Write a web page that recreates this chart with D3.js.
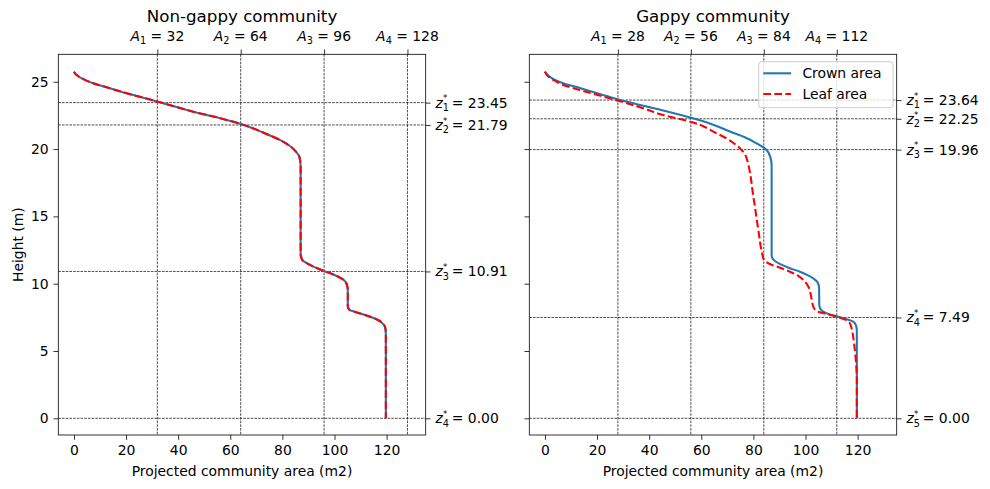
<!DOCTYPE html>
<html><head><meta charset="utf-8">
<script src="https://cdn.jsdelivr.net/npm/d3@7"></script>
<style>
html,body{margin:0;padding:0;background:#fff;}
svg{display:block;font-family:"DejaVu Sans",sans-serif;}
</style></head>
<body><svg id="c" width="990" height="489"></svg>
<script>
// ---------------- data ----------------
const titles = ["Non-gappy community", "Gappy community"];
const xTicks = [0, 20, 40, 60, 80, 100, 120];
const yTicks = [0, 5, 10, 15, 20, 25];
const ngA = [32, 64, 96, 128];
const ngZ = [23.45, 21.79, 10.91, 0.00];
const gA = [28, 56, 84, 112];
const gZ = [23.64, 22.25, 19.96, 7.49, 0.00];

// non-gappy community (crown and leaf area identical)
const ngArea = [0, 1.0, 2.3, 3.6, 7.4, 13.8, 20.2, 26.6, 32.3, 45.8, 54.8, 64.1, 73.9, 79.0, 82.9, 85.2, 86.5, 87.0, 87.0, 87.5, 90.0, 95.2, 100.0, 103.6, 104.8, 105.1, 105.1, 105.8, 108.0, 112.8, 116.7, 119.0, 119.6, 119.7, 119.7];
const ngHeight = [25.75, 25.5, 25.33, 25.2, 24.89, 24.52, 24.15, 23.82, 23.52, 22.78, 22.36, 21.86, 21.12, 20.68, 20.23, 19.81, 19.44, 18.7, 12.2, 11.8, 11.45, 11.0, 10.64, 10.27, 9.9, 9.5, 8.3, 8.05, 7.9, 7.6, 7.3, 6.93, 6.6, 6.0, 0.0];

// gappy community
const gCrownArea = [0, 1.0, 2.3, 3.6, 7.0, 14.0, 21.0, 28.5, 37.0, 45.4, 56.5, 64.0, 71.0, 76.5, 81.2, 84.8, 86.5, 87.0, 87.0, 87.6, 90.3, 94.0, 97.9, 101.0, 103.0, 104.6, 105.2, 105.3, 105.8, 106.8, 109.5, 112.5, 116.0, 118.3, 119.4, 119.7, 119.7];
const gCrownHeight = [25.75, 25.5, 25.3, 25.15, 24.89, 24.5, 24.1, 23.66, 23.25, 22.87, 22.3, 21.85, 21.3, 20.9, 20.43, 19.98, 19.4, 18.8, 12.1, 11.8, 11.45, 11.15, 10.89, 10.62, 10.4, 10.1, 9.7, 8.4, 8.1, 7.92, 7.7, 7.55, 7.35, 7.18, 6.9, 6.5, 0.0];
const gLeafArea = [0, 1.0, 2.3, 3.6, 7.0, 15.0, 24.9, 35.0, 45.4, 56.5, 65.9, 70.5, 74.8, 76.8, 77.6, 78.0, 80.0, 81.9, 83.3, 84.0, 85.7, 90.0, 94.0, 97.5, 99.8, 101.3, 101.9, 102.5, 103.0, 103.8, 104.9, 108.0, 111.9, 115.0, 117.0, 117.8, 118.3, 118.8, 119.2, 119.6, 119.7, 119.7];
const gLeafHeight = [25.75, 25.45, 25.25, 25.1, 24.76, 24.3, 23.77, 23.2, 22.53, 22.0, 21.17, 20.7, 20.06, 19.6, 19.2, 18.9, 16.46, 13.99, 12.3, 11.8, 11.52, 11.2, 10.89, 10.55, 10.15, 9.7, 9.29, 8.7, 8.29, 8.05, 7.92, 7.75, 7.55, 7.35, 7.06, 6.6, 6.06, 5.3, 4.58, 3.5, 2.85, 0.0];

const legendLabels = ["Crown area", "Leaf area"];

// ---------------- drawing ----------------
const svg = d3.select("#c");
const FS = 13.9, TICK = 4.86, PAD = 4.86;
const TOP = 54.3, BOTTOM = 435;
const panels = [
  {x0: 58.3, x1: 425.7, A: ngA, Z: ngZ, crown: [ngArea, ngHeight], leaf: [ngArea, ngHeight], ylab: true, legend: false},
  {x0: 529.3, x1: 896.7, A: gA, Z: gZ, crown: [gCrownArea, gCrownHeight], leaf: [gLeafArea, gLeafHeight], ylab: false, legend: true}
];
const y = d3.scaleLinear().domain([-1.24, 27.04]).range([BOTTOM, TOP]);

panels.forEach((p, pi) => {
  const x = d3.scaleLinear().domain([-6, 135]).range([p.x0, p.x1]);
  const g = svg.append("g");
  const clipId = "clip" + pi;
  svg.append("clipPath").attr("id", clipId).append("rect")
    .attr("x", p.x0).attr("y", TOP).attr("width", p.x1 - p.x0).attr("height", BOTTOM - TOP);
  const plot = g.append("g").attr("clip-path", `url(#${clipId})`);

  // reference lines
  plot.selectAll("line.va").data(p.A).join("line")
    .attr("x1", d => x(d)).attr("x2", d => x(d)).attr("y1", TOP).attr("y2", BOTTOM)
    .attr("stroke", "#000").attr("stroke-width", 0.7).attr("stroke-dasharray", "2.6,1.1");
  plot.selectAll("line.hz").data(p.Z).join("line")
    .attr("y1", d => y(d)).attr("y2", d => y(d)).attr("x1", p.x0).attr("x2", p.x1)
    .attr("stroke", "#000").attr("stroke-width", 0.7).attr("stroke-dasharray", "2.6,1.1");

  const line = d3.line().x(d => x(d[0])).y(d => y(d[1])).curve(d3.curveMonotoneY);
  const crownPts = p.crown[0].map((a, i) => [a, p.crown[1][i]]);
  const leafPts = p.leaf[0].map((a, i) => [a, p.leaf[1][i]]);
  plot.append("path").attr("d", line(crownPts)).attr("fill", "none")
    .attr("stroke", "#1f77b4").attr("stroke-width", 2.08).attr("stroke-linejoin", "round");
  plot.append("path").attr("d", line(leafPts)).attr("fill", "none")
    .attr("stroke", "#ff0000").attr("stroke-width", 2.08).attr("stroke-dasharray", "7.7,3.33");

  const xb = g.append("g").attr("transform", `translate(0,${BOTTOM})`)
    .call(d3.axisBottom(x).tickValues(xTicks).tickSize(TICK).tickPadding(PAD).tickFormat(d3.format("d")));
  const yl = g.append("g").attr("transform", `translate(${p.x0},0)`)
    .call(d3.axisLeft(y).tickValues(yTicks).tickSize(TICK).tickPadding(PAD).tickFormat(p.ylab ? d3.format("d") : () => ""));
  const xt = g.append("g").attr("transform", `translate(0,${TOP})`)
    .call(d3.axisTop(x).tickValues(p.A).tickSize(TICK).tickPadding(PAD).tickFormat(() => ""));
  const yr = g.append("g").attr("transform", `translate(${p.x1},0)`)
    .call(d3.axisRight(y).tickValues(p.Z).tickSize(TICK).tickPadding(PAD).tickFormat(() => ""));
  [xb, yl, xt, yr].forEach(a => {
    a.select(".domain").remove();
    a.selectAll("line").attr("stroke", "#000").attr("stroke-width", 0.8);
    a.selectAll("text").attr("font-size", FS).attr("fill", "#000").attr("font-family", "DejaVu Sans");
  });

  p.A.forEach((v, i) => {
    const t = g.append("text").attr("x", x(v)).attr("y", TOP - TICK - PAD - 3.2)
      .attr("text-anchor", "middle").attr("font-size", FS).attr("fill", "#000");
    t.append("tspan").attr("font-style", "italic").text("A");
    t.append("tspan").attr("font-size", FS * 0.7).attr("dy", 2.6).text(String(i + 1));
    t.append("tspan").attr("dy", -2.6).text(" = " + v);
  });
  p.Z.forEach((v, i) => {
    const xx = p.x1 + TICK + PAD;
    const yy = y(v) + 5;
    g.append("text").attr("x", xx).attr("y", yy).attr("font-size", FS).attr("font-style", "italic").attr("fill", "#000").text("z");
    g.append("text").attr("x", xx + 7.4).attr("y", yy + 3.4).attr("font-size", FS * 0.7).attr("fill", "#000").text(String(i + 1));
    g.append("text").attr("x", xx + 7.6).attr("y", yy - 6.2).attr("font-size", FS * 0.62).attr("fill", "#000").text("*");
    g.append("text").attr("x", xx + 16.4).attr("y", yy).attr("font-size", FS).attr("fill", "#000").text(" = " + v.toFixed(2));
  });

  g.append("rect").attr("x", p.x0).attr("y", TOP).attr("width", p.x1 - p.x0).attr("height", BOTTOM - TOP)
    .attr("fill", "none").attr("stroke", "#000").attr("stroke-width", 0.8);

  g.append("text").attr("x", (p.x0 + p.x1) / 2).attr("y", 22).attr("text-anchor", "middle")
    .attr("font-size", 16.7).attr("fill", "#000").text(titles[pi]);
  g.append("text").attr("x", (p.x0 + p.x1) / 2).attr("y", 475.5).attr("text-anchor", "middle")
    .attr("font-size", FS).attr("fill", "#000").text("Projected community area (m2)");
  if (p.ylab) {
    g.append("text").attr("transform", `translate(22.5,${(TOP + BOTTOM) / 2}) rotate(-90)`)
      .attr("text-anchor", "middle").attr("font-size", FS).attr("fill", "#000").text("Height (m)");
  }
  if (p.legend) {
    const lg = g.append("g");
    const lx = 758.7, ly = 61.7, lw = 134.3, lh = 46;
    lg.append("rect").attr("x", lx).attr("y", ly).attr("width", lw).attr("height", lh).attr("rx", 2.8)
      .attr("fill", "rgba(255,255,255,0.8)").attr("stroke", "#cccccc").attr("stroke-width", 1);
    const rows = [{c: "#1f77b4", dash: null}, {c: "#ff0000", dash: "7.7,3.33"}];
    rows.forEach((r, i) => {
      const cy = 73.3 + i * 20.7;
      const l = lg.append("line").attr("x1", 763.3).attr("x2", 791.1).attr("y1", cy).attr("y2", cy)
        .attr("stroke", r.c).attr("stroke-width", 2.08);
      if (r.dash) l.attr("stroke-dasharray", r.dash);
      lg.append("text").attr("x", 802.4).attr("y", cy + 5).attr("font-size", FS).attr("fill", "#000").text(legendLabels[i]);
    });
  }
});
</script></body></html>
